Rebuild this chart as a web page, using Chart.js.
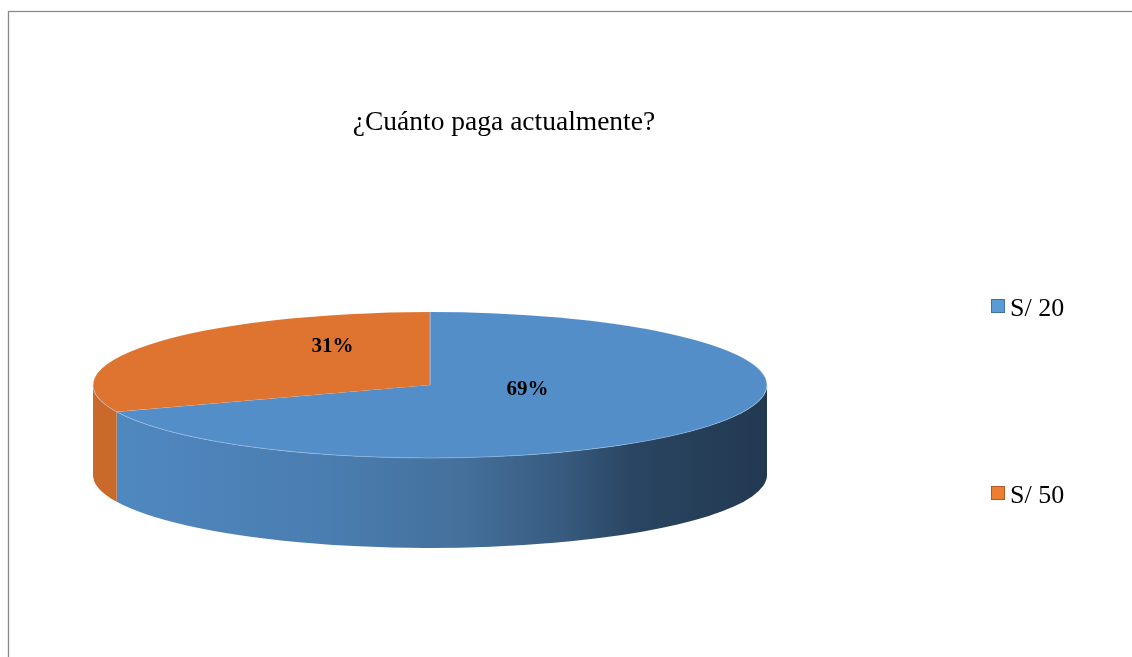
<!DOCTYPE html>
<html>
<head>
<meta charset="utf-8">
<script src="https://cdn.jsdelivr.net/npm/chart.js@4.4.1/dist/chart.umd.min.js"></script>
<style>
  html, body { margin: 0; padding: 0; background: #fff; }
</style>
</head>
<body>
<canvas id="payChart" width="1132" height="657"></canvas>
<script>
const labels = ["S/ 20", "S/ 50"];
const values = [69, 31];
const chartTitle = "¿Cuánto paga actualmente?";

const topColors = ["#548ec9", "#de7430"];
const legendColors = ["#5b9bd5", "#ed7d31"];
const legendBorders = ["#41719c", "#ae5a21"];
const sideStops = [
  [[0, "#5089c2"], [0.35, "#4a7db0"], [0.55, "#44709b"], [0.7, "#375a7e"], [0.8, "#2a4562"], [1, "#223950"]],
  [[0, "#c96a2b"], [1, "#a5541f"]]
];

// where the tilted pie sits on the page
const pie = { cx: 430, cy: 385, rx: 337, ry: 73, depth: 90 };
const serif = '"Liberation Serif", "Times New Roman", serif';
const total = values.reduce((a, b) => a + b, 0);

// visible (front) part of a slice side: canvas angles 0..PI
function frontParts(s, e) {
  const out = [];
  for (let k = -1; k <= 1; k++) {
    const lo = Math.max(s, 2 * Math.PI * k);
    const hi = Math.min(e, Math.PI + 2 * Math.PI * k);
    if (hi > lo) out.push([lo, hi]);
  }
  return out;
}

const tiltPie = {
  id: "tiltPie",
  beforeDatasetsDraw(chart) {
    const ctx = chart.ctx;
    const arcs = chart.getDatasetMeta(0).data;
    arcs.forEach((arc, i) => {
      frontParts(arc.startAngle, arc.endAngle).forEach(([a0, a1]) => {
        const g = ctx.createLinearGradient(pie.cx - pie.rx, 0, pie.cx + pie.rx, 0);
        sideStops[i].forEach(s => g.addColorStop(s[0], s[1]));
        ctx.beginPath();
        ctx.ellipse(pie.cx, pie.cy, pie.rx, pie.ry, 0, a0, a1);
        ctx.ellipse(pie.cx, pie.cy + pie.depth, pie.rx, pie.ry, 0, a1, a0, true);
        ctx.closePath();
        ctx.fillStyle = g;
        ctx.fill();
      });
    });
    // squash the flat pie into the top face
    const a = arcs[0];
    ctx.save();
    ctx.translate(pie.cx, pie.cy);
    ctx.scale(pie.rx / a.outerRadius, pie.ry / a.outerRadius);
    ctx.translate(-a.x, -a.y);
  },
  afterDatasetsDraw(chart) {
    const ctx = chart.ctx;
    ctx.restore();
    const arcs = chart.getDatasetMeta(0).data;

    // light rim between top and side
    ctx.save();
    ctx.beginPath();
    ctx.ellipse(pie.cx, pie.cy, pie.rx, pie.ry, 0, 0, Math.PI);
    ctx.strokeStyle = "rgba(150,190,230,0.5)";
    ctx.lineWidth = 1;
    ctx.stroke();

    ctx.font = "bold 21px " + serif;
    ctx.fillStyle = "#000";
    ctx.textAlign = "center";
    ctx.textBaseline = "middle";
    arcs.forEach((arc, i) => {
      const mid = (arc.startAngle + arc.endAngle) / 2;
      const x = pie.cx + pie.rx * 0.35 * Math.cos(mid);
      const y = pie.cy - 17 + 38 * Math.sin(mid);
      ctx.fillText(Math.round(values[i] / total * 100) + "%", x, y);
    });
    ctx.restore();
  },
  afterDraw(chart) {
    const ctx = chart.ctx;
    ctx.save();
    // chart frame (only left and top edges fall inside the picture)
    ctx.strokeStyle = "#8a8a8a";
    ctx.lineWidth = 1.3;
    ctx.strokeRect(8.5, 11.5, 1400, 900);

    ctx.fillStyle = "#000";
    ctx.font = "27.5px " + serif;
    ctx.textAlign = "center";
    ctx.textBaseline = "alphabetic";
    ctx.fillText(chartTitle, 504, 130);

    ctx.textAlign = "left";
    ctx.font = "26px " + serif;
    labels.forEach((lab, i) => {
      const y = 316 + i * 187;
      ctx.fillStyle = legendColors[i];
      ctx.fillRect(991, y - 17, 14, 14);
      ctx.strokeStyle = legendBorders[i];
      ctx.lineWidth = 1;
      ctx.strokeRect(991.5, y - 16.5, 13, 13);
      ctx.fillStyle = "#000";
      ctx.fillText(lab, 1010, y);
    });
    ctx.restore();
  }
};

new Chart(document.getElementById("payChart"), {
  type: "pie",
  data: {
    labels: labels,
    datasets: [
      {
        data: values,
        backgroundColor: topColors,
        borderWidth: 1,
        borderColor: "rgba(255,255,255,0.3)",
        clip: false
      }
    ]
  },
  options: {
    responsive: false,
    animation: false,
    events: [],
    plugins: {
      legend: { display: false },
      tooltip: { enabled: false },
      title: { display: false }
    }
  },
  plugins: [tiltPie]
});
</script>
</body>
</html>
